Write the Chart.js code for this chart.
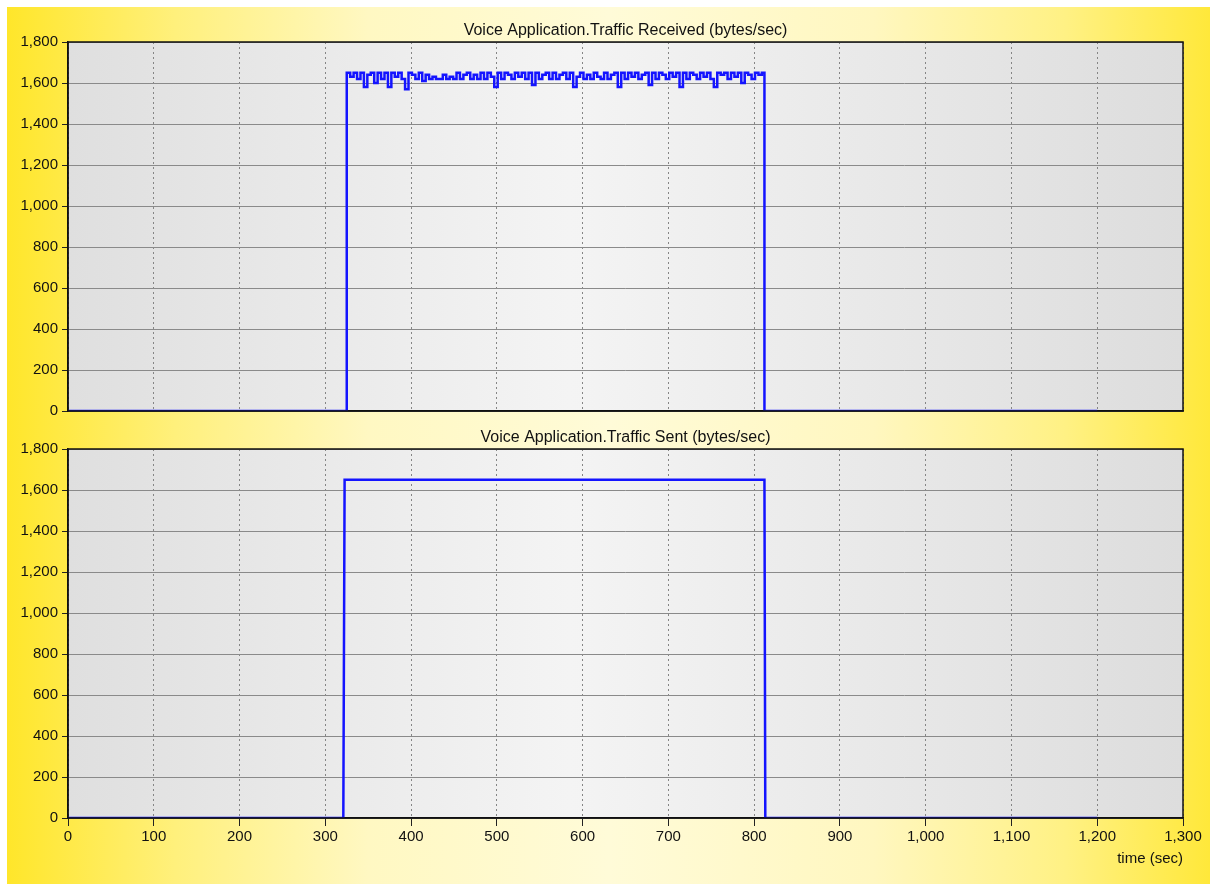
<!DOCTYPE html>
<html>
<head>
<meta charset="utf-8">
<title>Voice Application traffic</title>
<script src="https://cdn.jsdelivr.net/npm/chart.js@4.4.1/dist/chart.umd.min.js"></script>
<style>
  body { margin: 0; background: #fff; }
  #frame {
    position: absolute; left: 7px; top: 7px; width: 1203px; height: 877px;
    background: linear-gradient(to right, #ffe62a 0%, #fff07c 14%, #fff8c2 30%, #fffbd8 50%, #fff7c0 72%, #fff184 88%, #ffe83a 100%);
  }
  .box { position: absolute; left: 0; width: 1203px; }
  #topBox { top: 0; height: 417px; }
  #botBox { top: 412px; height: 465px; }
</style>
</head>
<body>
<div id="frame">
  <div class="box" id="topBox"><canvas id="recvChart"></canvas></div>
  <div class="box" id="botBox"><canvas id="sentChart"></canvas></div>
</div>
<script>
// x axis ticks (sec)
const xMin = 0;
const xMax = 1300;
const xStep = 100;
// y axis ticks (bytes/sec)
const yMin = 0;
const yMax = 1800;
const yStep = 200;

// Traffic Received: flat, then sampled every 4 sec while the call is up, then flat
const recvLeadTimes = [0, 324];
const recvLeadValues = [0, 0];
const recvSampleStart = 325;
const recvSampleStep = 4;
const recvSamples = [
  1650, 1630, 1650, 1620, 1650, 1580, 1640, 1650, 1600, 1650,
  1620, 1650, 1580, 1650, 1630, 1650, 1620, 1570, 1650, 1640,
  1620, 1650, 1610, 1640, 1620, 1630, 1620, 1620, 1640, 1620,
  1630, 1620, 1650, 1620, 1640, 1650, 1620, 1640, 1620, 1650,
  1620, 1650, 1630, 1580, 1650, 1620, 1650, 1640, 1620, 1650,
  1630, 1650, 1620, 1650, 1590, 1650, 1620, 1640, 1650, 1620,
  1650, 1620, 1640, 1650, 1620, 1650, 1580, 1630, 1650, 1620,
  1640, 1620, 1650, 1630, 1620, 1650, 1620, 1640, 1650, 1580,
  1650, 1620, 1650, 1630, 1650, 1620, 1640, 1650, 1590, 1650,
  1620, 1650, 1640, 1620, 1650, 1630, 1650, 1580, 1650, 1620,
  1650, 1640, 1620, 1650, 1630, 1650, 1620, 1580, 1650, 1640,
  1650, 1620, 1650, 1630, 1650, 1600, 1650, 1640, 1620, 1650,
  1640, 1650
];
const recvTailTimes = [812, 1200];
const recvTailValues = [0, 0];

// Traffic Sent: a clean step
const sentTimes = [0, 321, 322.5, 812, 813, 1200];
const sentValues = [0, 0, 1650, 1650, 0, 0];

const lineColor = '#1414ff';

const recvPoints = [];
recvLeadTimes.forEach((t, i) => recvPoints.push({ x: t, y: recvLeadValues[i] }));
recvSamples.forEach((v, i) => recvPoints.push({ x: recvSampleStart + i * recvSampleStep, y: v }));
recvTailTimes.forEach((t, i) => recvPoints.push({ x: t, y: recvTailValues[i] }));

const sentPoints = sentTimes.map((t, i) => ({ x: t, y: sentValues[i] }));

Chart.defaults.font.family = '"Liberation Sans", Arial, sans-serif';
Chart.defaults.color = '#111';
Chart.defaults.animation = false;

// grey plot background + black frame round the plot area
const plotFrame = {
  id: 'plotFrame',
  beforeDraw(chart) {
    const { ctx, chartArea: a } = chart;
    const g = ctx.createLinearGradient(a.left, 0, a.right, 0);
    g.addColorStop(0, '#dfdfdf');
    g.addColorStop(0.45, '#f4f4f4');
    g.addColorStop(1, '#dddddd');
    ctx.save();
    ctx.fillStyle = g;
    ctx.fillRect(a.left, a.top, a.right - a.left, a.bottom - a.top);
    ctx.restore();
  },
  afterDraw(chart) {
    const { ctx, chartArea: a } = chart;
    ctx.save();
    ctx.strokeStyle = '#111';
    ctx.lineWidth = 1.5;
    ctx.strokeRect(a.left, a.top, a.right - a.left, a.bottom - a.top);
    ctx.restore();
  }
};

function makeChart(id, title, points, opts) {
  const ctx = document.getElementById(id).getContext('2d');
  return new Chart(ctx, {
    type: 'line',
    data: {
      datasets: [{
        label: title,
        data: points,
        borderColor: lineColor,
        borderWidth: 2.5,
        pointRadius: 0,
        tension: 0,
        stepped: opts.stepped,
        fill: false
      }]
    },
    options: {
      responsive: true,
      maintainAspectRatio: false,
      layout: { padding: { left: 0, right: 27, top: 0, bottom: opts.bottomPad } },
      plugins: {
        legend: { display: false },
        tooltip: { enabled: false },
        title: {
          display: true,
          fullSize: false,
          text: title,
          color: '#111',
          font: { size: 16, weight: 'normal' },
          padding: { top: opts.titleTop, bottom: opts.titleBottom }
        }
      },
      scales: {
        x: {
          type: 'linear',
          min: xMin,
          max: xMax,
          afterFit(scale) { scale.height = opts.xHeight; },
          ticks: {
            display: opts.showX,
            stepSize: xStep,
            padding: 2,
            font: { size: 15 },
            color: '#111',
            maxRotation: 0,
            callback: v => v.toLocaleString('en-US')
          },
          grid: {
            color: '#858585',
            lineWidth: 1,
            drawTicks: opts.showX,
            tickLength: 8,
            tickColor: '#222'
          },
          border: { display: true, color: '#111', width: 1.5, dash: [2, 3] },
          title: {
            display: opts.showX,
            text: 'time (sec)',
            align: 'end',
            color: '#111',
            font: { size: 15 },
            padding: { top: 0, bottom: 16 }
          }
        },
        y: {
          min: yMin,
          max: yMax,
          afterFit(scale) { scale.width = 61; },
          ticks: {
            stepSize: yStep,
            padding: 4,
            font: { size: 15 },
            color: '#111',
            callback: v => v.toLocaleString('en-US')
          },
          grid: {
            color: '#8a8a8a',
            lineWidth: 1,
            tickLength: 6,
            tickColor: '#222'
          },
          border: { display: true, color: '#111', width: 1.5 }
        }
      }
    },
    plugins: [plotFrame]
  });
}

makeChart('recvChart', 'Voice Application.Traffic Received (bytes/sec)', recvPoints,
  { titleTop: 14, titleBottom: 1.8, xHeight: 0, bottomPad: 3, showX: false, stepped: true });
makeChart('sentChart', 'Voice Application.Traffic Sent (bytes/sec)', sentPoints,
  { titleTop: 9, titleBottom: 1.8, xHeight: 66, bottomPad: 0, showX: true, stepped: false });
</script>
</body>
</html>
